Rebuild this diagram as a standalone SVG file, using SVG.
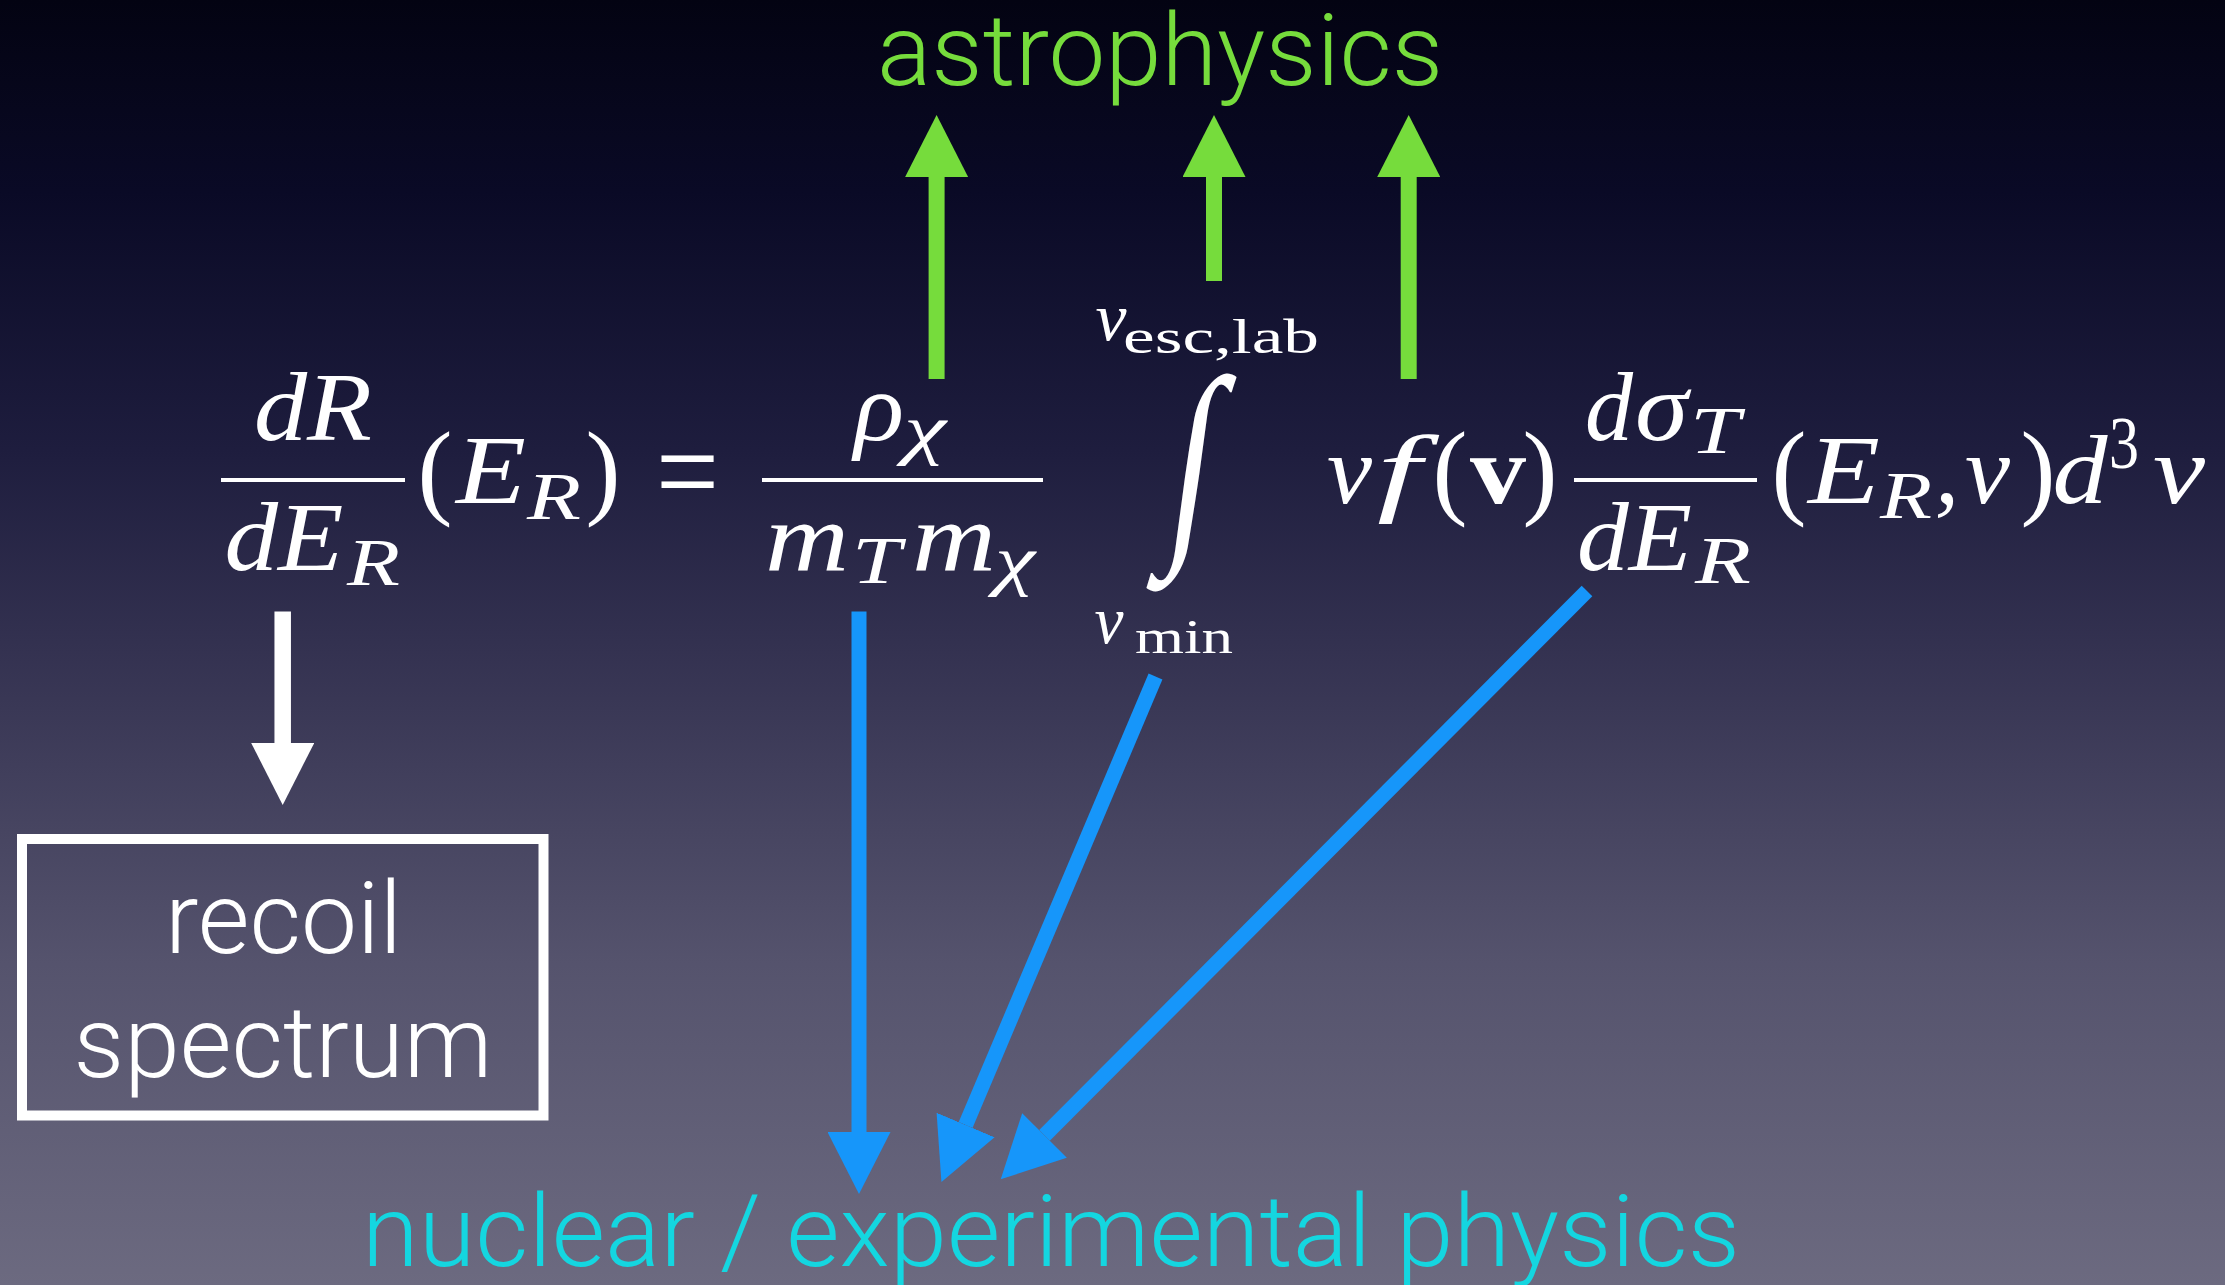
<svg xmlns="http://www.w3.org/2000/svg" width="2225" height="1285" viewBox="0 0 2225 1285">
<defs>
  <linearGradient id="bg" x1="0" y1="0" x2="0" y2="1">
    <stop offset="0" stop-color="#030312"/>
    <stop offset="0.15" stop-color="#0a0a26"/>
    <stop offset="0.35" stop-color="#1e1d3e"/>
    <stop offset="0.5" stop-color="#333150"/>
    <stop offset="0.75" stop-color="#55536d"/>
    <stop offset="1" stop-color="#6c6a80"/>
  </linearGradient>
  <marker id="hg" markerUnits="userSpaceOnUse" viewBox="0 0 62 63" markerWidth="62" markerHeight="63" refX="0" refY="31.5" orient="auto"><path d="M0,0 L62,31.5 L0,63Z" fill="#76DC3C"/></marker>
  <marker id="hb" markerUnits="userSpaceOnUse" viewBox="0 0 62 63" markerWidth="62" markerHeight="63" refX="0" refY="31.5" orient="auto"><path d="M0,0 L62,31.5 L0,63Z" fill="#1696FA"/></marker>
  <marker id="hw" markerUnits="userSpaceOnUse" viewBox="0 0 62 63" markerWidth="62" markerHeight="63" refX="0" refY="31.5" orient="auto"><path d="M0,0 L62,31.5 L0,63Z" fill="#FFFFFF"/></marker>
</defs>
<style>
  .i{font-family:'Liberation Serif',serif;font-style:italic;fill:#fff}
  .u{font-family:'Liberation Serif',serif;fill:#fff}
  .b{font-family:'Liberation Serif',serif;font-weight:bold;fill:#fff}
  .s{font-family:Roboto,'Liberation Sans',sans-serif;font-weight:300}
  .bar{fill:#fff}
  .ga{stroke:#76DC3C;stroke-width:16;fill:none;marker-end:url(#hg)}
  .ba{stroke:#1696FA;stroke-width:15;fill:none;marker-end:url(#hb)}
  .wa{stroke:#FFFFFF;stroke-width:16.5;fill:none;marker-end:url(#hw)}
</style>
<rect x="0" y="0" width="2225" height="1285" fill="url(#bg)"/>

<g id="astrophysics">
  <text class="s" x="877" y="85" font-size="100" fill="#76DC3C" textLength="566" lengthAdjust="spacingAndGlyphs">astrophysics</text>
</g>

<g id="nuclear-experimental-physics">
  <text class="s" x="362" y="1266" font-size="100" fill="#14D6E0" textLength="1378" lengthAdjust="spacingAndGlyphs">nuclear / experimental physics</text>
</g>

<g id="recoil-spectrum">
  <rect x="22" y="839" width="521.5" height="276.5" fill="none" stroke="#fff" stroke-width="10"/>
  <text class="s" x="283.5" y="953" font-size="100" fill="#fff" text-anchor="middle" textLength="237" lengthAdjust="spacingAndGlyphs">recoil</text>
  <text class="s" x="283" y="1077" font-size="100" fill="#fff" text-anchor="middle" textLength="419" lengthAdjust="spacingAndGlyphs">spectrum</text>
</g>

<g id="term-rate" text-anchor="middle">
  <text class="i" x="313" y="440" font-size="98" textLength="118" lengthAdjust="spacingAndGlyphs">dR</text>
  <rect class="bar" x="221" y="478" width="184" height="4"/>
  <text class="i" x="284" y="570" font-size="98" textLength="119" lengthAdjust="spacingAndGlyphs">dE</text>
  <text class="i" x="373.5" y="585" font-size="68" textLength="53" lengthAdjust="spacingAndGlyphs">R</text>
  <text class="u" x="435" y="505" font-size="105">(</text>
  <text class="i" x="491" y="503" font-size="98" textLength="70" lengthAdjust="spacingAndGlyphs">E</text>
  <text class="i" x="554" y="519" font-size="68" textLength="54" lengthAdjust="spacingAndGlyphs">R</text>
  <text class="u" x="603" y="505" font-size="105">)</text>
  <text class="u" x="687.5" y="515" font-size="130" textLength="63" lengthAdjust="spacingAndGlyphs">=</text>
</g>

<g id="term-prefactor" text-anchor="middle">
  <text class="i" x="879" y="440" font-size="98" textLength="50" lengthAdjust="spacingAndGlyphs">ρ</text>
  <text class="i" x="925" y="452" font-size="68" textLength="42" lengthAdjust="spacingAndGlyphs">χ</text>
  <rect class="bar" x="762" y="478" width="281" height="4"/>
  <text class="i" x="807" y="570" font-size="98" textLength="84" lengthAdjust="spacingAndGlyphs">m</text>
  <text class="i" x="876.5" y="583" font-size="68" textLength="49" lengthAdjust="spacingAndGlyphs">T</text>
  <text class="i" x="954" y="570" font-size="98" textLength="84" lengthAdjust="spacingAndGlyphs">m</text>
  <text class="i" x="1015" y="583" font-size="68" textLength="40" lengthAdjust="spacingAndGlyphs">χ</text>
</g>

<g id="term-integral" text-anchor="middle">
  <text class="i" x="1111" y="340" font-size="68" textLength="31" lengthAdjust="spacingAndGlyphs">v</text>
  <text class="u" x="1221" y="353" font-size="49" textLength="196" lengthAdjust="spacingAndGlyphs">esc,lab</text>
  <text class="u" x="1192" y="532" font-size="222" transform="translate(1192 479) skewX(-8) scale(0.72 1) translate(-1192 -479)">∫</text>
  <text class="i" x="1109" y="643" font-size="68" textLength="29" lengthAdjust="spacingAndGlyphs">v</text>
  <text class="u" x="1184" y="653" font-size="49" textLength="98" lengthAdjust="spacingAndGlyphs">min</text>
</g>

<g id="term-integrand" text-anchor="middle">
  <text class="i" x="1349.5" y="503" font-size="98" textLength="45" lengthAdjust="spacingAndGlyphs">v</text>
  <text class="i" x="1399" y="503" font-size="98" textLength="44" lengthAdjust="spacingAndGlyphs">f</text>
  <text class="u" x="1450" y="505" font-size="105">(</text>
  <text class="b" x="1498" y="503" font-size="98" textLength="56" lengthAdjust="spacingAndGlyphs">v</text>
  <text class="u" x="1540" y="505" font-size="105">)</text>
  <text class="i" x="1609" y="440" font-size="98" textLength="48" lengthAdjust="spacingAndGlyphs">d</text>
  <text class="i" x="1661.5" y="440" font-size="98" textLength="53" lengthAdjust="spacingAndGlyphs">σ</text>
  <text class="i" x="1715" y="453" font-size="68" textLength="50" lengthAdjust="spacingAndGlyphs">T</text>
  <rect class="bar" x="1574" y="478" width="183" height="4"/>
  <text class="i" x="1634.5" y="570" font-size="98" textLength="115" lengthAdjust="spacingAndGlyphs">dE</text>
  <text class="i" x="1723" y="583" font-size="68" textLength="56" lengthAdjust="spacingAndGlyphs">R</text>
  <text class="u" x="1789" y="505" font-size="105">(</text>
  <text class="i" x="1844" y="503" font-size="98" textLength="72" lengthAdjust="spacingAndGlyphs">E</text>
  <text class="i" x="1906" y="518" font-size="68" textLength="52" lengthAdjust="spacingAndGlyphs">R</text>
  <text class="i" x="1947" y="503" font-size="98">,</text>
  <text class="i" x="1987.5" y="503" font-size="98" textLength="45" lengthAdjust="spacingAndGlyphs">v</text>
  <text class="u" x="2038" y="505" font-size="105">)</text>
  <text class="i" x="2080" y="503" font-size="98" textLength="55" lengthAdjust="spacingAndGlyphs">d</text>
  <text class="u" x="2124" y="468" font-size="74" textLength="30" lengthAdjust="spacingAndGlyphs">3</text>
  <text class="i" x="2179" y="503" font-size="98" textLength="52" lengthAdjust="spacingAndGlyphs">v</text>
</g>

<g id="connectors">
  <line class="ga" x1="936.6" y1="379" x2="936.6" y2="177"/>
  <line class="ga" x1="1214" y1="281" x2="1214" y2="177"/>
  <line class="ga" x1="1408.7" y1="379" x2="1408.7" y2="177"/>
  <line class="wa" x1="282.7" y1="611.5" x2="282.7" y2="743"/>
  <line class="ba" x1="859" y1="611.5" x2="859" y2="1132"/>
  <line class="ba" x1="1155.5" y1="676.5" x2="965.6" y2="1125"/>
  <line class="ba" x1="1587" y1="591" x2="1044.5" y2="1135.4"/>
</g>
</svg>
